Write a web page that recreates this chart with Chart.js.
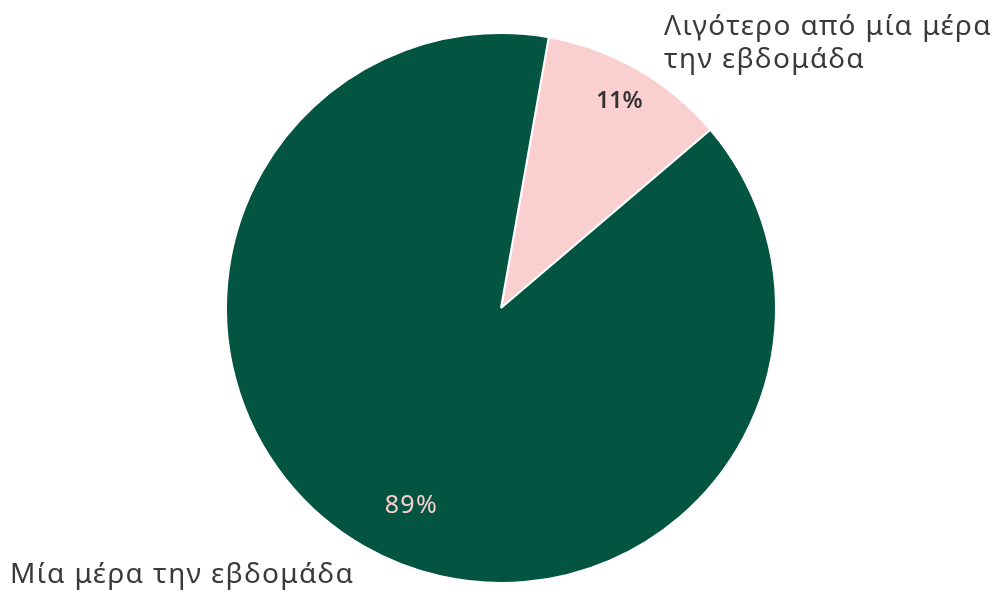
<!DOCTYPE html>
<html>
<head>
<meta charset="utf-8">
<script src="https://cdn.jsdelivr.net/npm/chart.js@4"></script>
<style>
  html, body { margin: 0; padding: 0; background: #ffffff; }
  #wrap { width: 995px; height: 591px; position: relative; }
</style>
</head>
<body>
<div id="wrap"><canvas id="pieChart" width="995" height="591"></canvas></div>
<script>
// Categories and shares (percent)
var categories = ['Λιγότερο από μία μέρα την εβδομάδα', 'Μία μέρα την εβδομάδα'];
var shares = [11, 89];
var sliceColors = ['#f9cfcf', '#045442'];
var pctColors = ['#333333', '#f9cfcf'];
var pctFonts = ['600 23px "Noto Sans", sans-serif', '25px "Noto Sans", sans-serif'];

// Where the percent label sits: fraction along the slice and fraction of the radius
var pctAlong = [0.5, 0.483];
var pctRadius = [0.866, 0.79];

var NAME_FONT = '28px "Noto Sans", sans-serif';

// Draws the percentages inside the slices and the category names outside
var sliceLabels = {
    id: 'sliceLabels',
    afterDatasetsDraw: function(chart) {
        var ctx = chart.ctx;
        var arcs = chart.getDatasetMeta(0).data;
        ctx.save();
        ctx.textAlign = 'center';
        ctx.textBaseline = 'middle';
        for (var i = 0; i < arcs.length; i++) {
            var a = arcs[i];
            var ang = a.startAngle + (a.endAngle - a.startAngle) * pctAlong[i];
            var r = a.outerRadius * pctRadius[i];
            ctx.font = pctFonts[i];
            ctx.letterSpacing = i === 1 ? '1.4px' : '0px';
            ctx.fillStyle = pctColors[i];
            ctx.fillText(shares[i] + '%', a.x + Math.cos(ang) * r, a.y + Math.sin(ang) * r);
        }

        // category names
        ctx.fillStyle = '#3a3a3a';
        ctx.font = NAME_FONT;
        ctx.letterSpacing = '1.4px';
        ctx.textAlign = 'left';
        ctx.textBaseline = 'alphabetic';
        ctx.fillText('Λιγότερο από μία μέρα', 664, 35);
        ctx.fillText('την εβδομάδα', 664, 68);
        ctx.fillText(categories[1], 10, 583);
        ctx.restore();
    }
};

var ctx = document.getElementById('pieChart').getContext('2d');
var pieChart = new Chart(ctx, {
    type: 'pie',
    data: {
        labels: categories,
        datasets: [{
            data: shares,
            backgroundColor: sliceColors,
            borderColor: '#ffffff',
            borderWidth: 2
        }]
    },
    options: {
        responsive: false,
        animation: false,
        rotation: 10,
        layout: { padding: { left: 7, right: 0, top: 32, bottom: 7 } },
        plugins: {
            legend: { display: false },
            tooltip: { enabled: false }
        }
    },
    plugins: [sliceLabels]
});
</script>
</body>
</html>
